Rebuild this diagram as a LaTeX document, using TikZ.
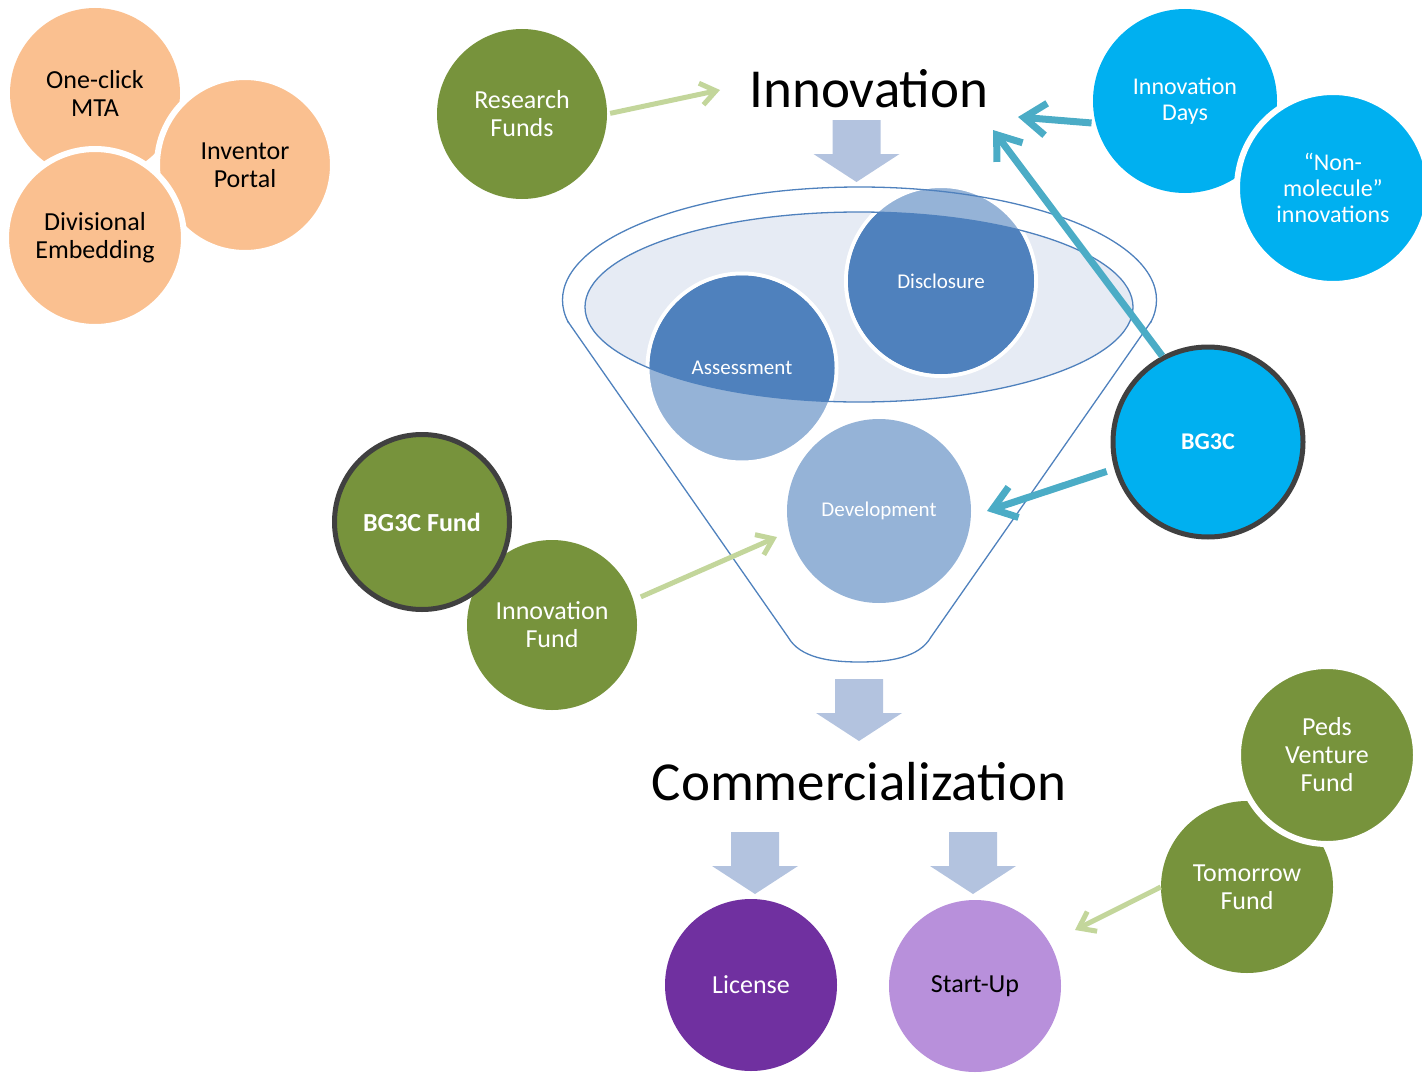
\documentclass[tikz,border=0pt]{standalone}
\usepackage{fontspec}
\setmainfont{Carlito}
\usetikzlibrary{arrows.meta}
\definecolor{cgreen}{HTML}{77933C}
\definecolor{corange}{HTML}{FAC090}
\definecolor{cblue}{HTML}{00B0F0}
\definecolor{cdark}{HTML}{4F81BD}
\definecolor{clight}{HTML}{95B3D7}
\definecolor{cpale}{HTML}{E6EBF4}
\definecolor{cblock}{HTML}{B3C3DF}
\definecolor{cteal}{HTML}{4BACC6}
\definecolor{clgreen}{HTML}{C3D69B}
\definecolor{cpurple}{HTML}{7030A0}
\definecolor{clilac}{HTML}{B890DB}
\definecolor{cborder}{HTML}{404040}
\begin{document}
\begin{tikzpicture}[x=1pt,y=-1pt,
 circ/.style={circle,inner sep=0pt,align=center,font=\fontsize{26}{28}\selectfont},
 ocirc/.style={circ,fill=corange,text=black},
 gcirc/.style={circ,fill=cgreen,text=white},
 bcirc/.style={circ,fill=cblue,text=white,font=\fontsize{24}{26}\selectfont},
 wring/.style={draw=white,line width=6pt},
 dring/.style={draw=cborder,line width=5pt},
 fcirc/.style={circ,text=white,font=\fontsize{21}{24}\selectfont},
 title/.style={inner sep=0pt,anchor=base,font=\fontsize{55}{60}\selectfont},
 tealarr/.style={draw=cteal,line width=7pt,-{Straight Barb[length=22pt,width=32pt]}},
 grarr/.style={draw=clgreen,line width=5pt,-{Straight Barb[length=15pt,width=22pt]}},
 blk/.pic={\fill[cblock] (-24,0) -- (24,0) -- (24,34) -- (43,34) -- (0,62) -- (-43,34) -- (-24,34) -- cycle;},
 funnel/.style={draw=cdark,line width=1.3pt}
]
\useasboundingbox (0,0) rectangle (1422,1073);

% orange cluster
\node[ocirc,minimum size=170] (mta) at (95,93) {One-click\\MTA};
\node[ocirc,wring,minimum size=176] (portal) at (245,165) {Inventor\\Portal};
\node[ocirc,wring,minimum size=178] (div) at (95,238) {Divisional\\Embedding};

% funnel
\fill[cpale] (859,307) ellipse [x radius=274, y radius=95];
\node[fcirc,fill=clight,draw=white,line width=4pt,minimum size=190] (disc) at (941,281) {};
\node[fcirc,fill=clight,draw=white,line width=4pt,minimum size=189] (assess) at (742,368) {};
\begin{scope}
 \clip (859,307) ellipse [x radius=274, y radius=95];
 \fill[cdark] (disc.center) circle [radius=93];
 \fill[cdark] (assess.center) circle [radius=92.5];
\end{scope}
\draw[funnel] (859,307) ellipse [x radius=274, y radius=95];
\begin{scope}
 \clip (0,0) rectangle (1422,322);
 \draw[funnel] (859.5,300) ellipse [x radius=297, y radius=113];
\end{scope}
\draw[funnel] (567.5,321) -- (788,637) .. controls (800,658) and (830,662) .. (859.5,662)
  .. controls (889,662) and (919,658) .. (931,637) -- (1151.5,321);
\node[fcirc] (disclbl) at (disc.center) {Disclosure};
\node[fcirc] (assesslbl) at (assess.center) {Assessment};
\node[fcirc,fill=clight,minimum size=184] (dev) at (879,511) {Development};

% titles and block arrows
\node[title] (innov) at (869,107) {Innovation};
\node[title] (comm) at (859,800) {Commercialization};
\pic at (856.5,120) {blk};
\pic at (859,679) {blk};
\pic at (755,832) {blk};
\pic at (973,832) {blk};

% green circles
\node[gcirc,minimum size=170] (rfunds) at (522,114) {Research\\Funds};
\node[gcirc,minimum size=170] (ifund) at (552,625) {Innovation\\Fund};
\node[gcirc,dring,minimum size=175,font=\bfseries\fontsize{26}{28}\selectfont] (bgfund) at (422,522) {BG3C Fund};
\node[gcirc,minimum size=172] (tfund) at (1247,887) {Tomorrow\\Fund};
\node[gcirc,wring,minimum size=178] (peds) at (1327,755) {Peds\\Venture\\Fund};

% blue circles
\node[bcirc,minimum size=184] (idays) at (1185,101) {Innovation\\Days};
\node[bcirc,wring,minimum size=192] (nonmol) at (1333,188) {“Non-\\molecule”\\innovations};
\node[bcirc,dring,minimum size=190,font=\bfseries\fontsize{24}{26}\selectfont] (bg3c) at (1208,442) {BG3C};

% purple circles
\node[circ,fill=cpurple,text=white,minimum size=172] (lic) at (751,985) {License};
\node[circ,fill=clilac,text=black,minimum size=172] (startup) at (975,986) {Start-Up};

% connectors
\coordinate (tipRF) at (720,90);
\coordinate (tipIF) at (777,537);
\coordinate (tipTF) at (1075,930);
\coordinate (tipI1) at (1018,117);
\coordinate (tipI2) at (993,130);
\coordinate (tipD) at (987,511);
\draw[grarr,shorten <=3pt] (rfunds.east) -- (tipRF);
\draw[grarr,shorten <=8pt] (ifund.17) -- (tipIF);
\draw[grarr] (tfund.west) -- (tipTF);
\draw[tealarr,shorten <=4pt] (idays.194) -- (tipI1);
\draw[tealarr] (bg3c.118) -- (tipI2);
\draw[tealarr,shorten <=8pt] (bg3c.196) -- (tipD);
\end{tikzpicture}
\end{document}
